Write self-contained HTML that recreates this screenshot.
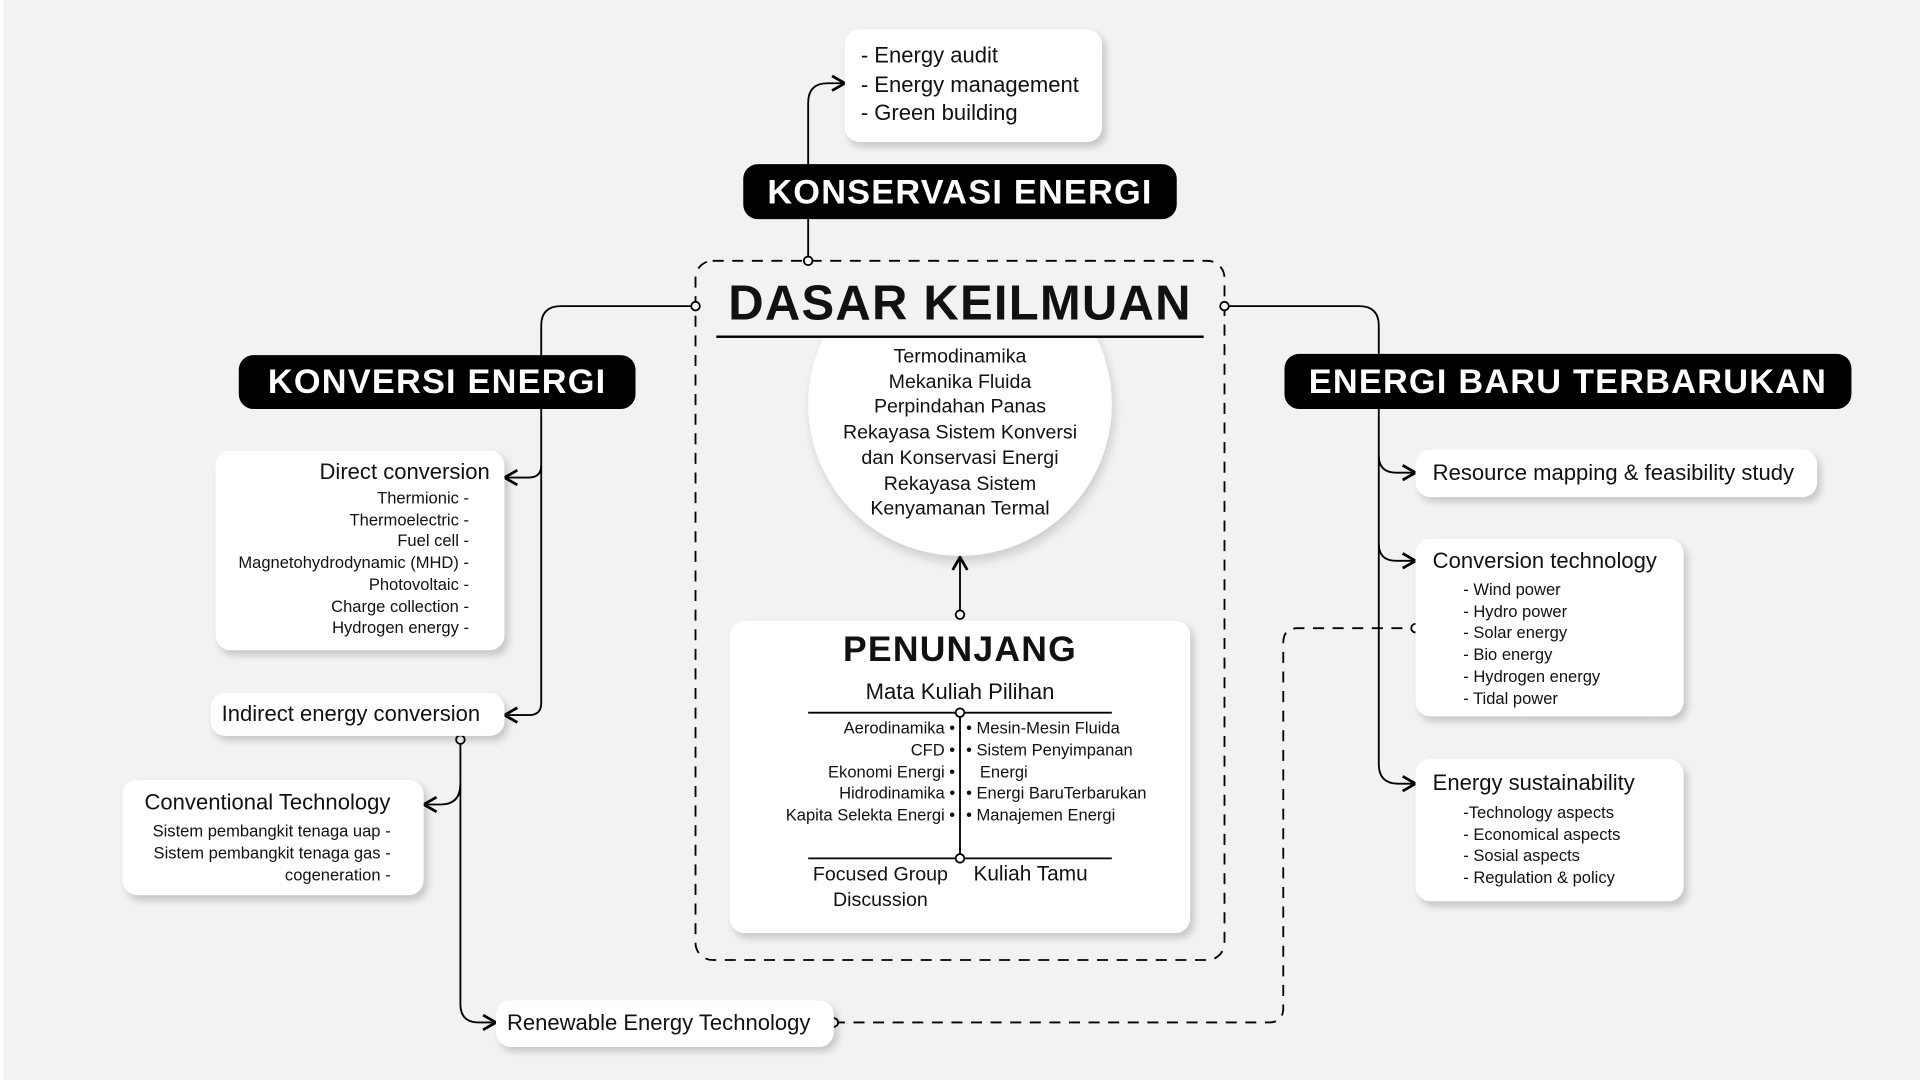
<!DOCTYPE html>
<html><head><meta charset="utf-8"><style>
html,body{margin:0;padding:0;width:1920px;height:1080px;overflow:hidden;background:#f2f2f2}
#s{position:absolute;left:0;top:0;width:1568px;height:882px;transform:scale(1.22449);transform-origin:0 0;font-family:"Liberation Sans",sans-serif;color:#111}
.b{position:absolute;background:#fff;border-radius:12px;box-shadow:3px 4px 6px rgba(0,0,0,0.18)}
.p{position:absolute;background:#000;color:#fff;border-radius:12px;font-weight:bold;text-align:center;letter-spacing:1px}
.t{position:absolute;white-space:nowrap}
</style></head><body><div id="s">
<div style="position:absolute;left:0;top:0;width:3px;height:882px;background:#fff"></div>
<svg width="1568" height="882" style="position:absolute;left:0;top:0">
<defs><marker id="a" markerWidth="10" markerHeight="10" refX="8" refY="5" orient="auto"><path d="M1,1 L8,5 L1,9" fill="none" stroke="#000" stroke-width="1.5"/></marker></defs>
<g fill="none" stroke="#000" stroke-width="1.5">
<rect x="568" y="213" width="432" height="571" rx="14" stroke-dasharray="9,7"/>
<path d="M660,213 V84 Q660,68 676,68 H690" marker-end="url(#a)"/>
<path d="M568,250 H458 Q442,250 442,266 V574 Q442,584 432,584 H412" marker-end="url(#a)"/>
<path d="M442,380 Q442,390 432,390 H412" marker-end="url(#a)"/>
<path d="M376,604 V820 Q376,835 391,835 H405" marker-end="url(#a)"/>
<path d="M376,640 Q376,657 360,657 H346" marker-end="url(#a)"/>
<path d="M1000,250 H1110 Q1126,250 1126,266 V624 Q1126,640 1142,640 H1156" marker-end="url(#a)"/>
<path d="M1126,372 Q1126,386 1140,386 H1156" marker-end="url(#a)"/>
<path d="M1126,444 Q1126,458 1140,458 H1156" marker-end="url(#a)"/>
<path d="M681,835 H1036 Q1048,835 1048,823 V525 Q1048,513 1060,513 H1156" stroke-dasharray="9,7"/>
<path d="M784,502 V455" marker-end="url(#a)"/>
</g>
</svg>
<div class="b" style="left:690px;top:24px;width:210px;height:92px"></div>
<div class="t" style="left:703px;top:34px;font-size:18px;line-height:23.5px">- Energy audit<br>- Energy management<br>- Green building</div>
<div class="p" style="left:607px;top:134px;width:354px;height:45px;line-height:46px;font-size:28px">KONSERVASI ENERGI</div>
<div style="position:absolute;left:660px;top:206px;width:248px;height:248px;border-radius:50%;background:#fff;box-shadow:2px 5px 8px rgba(0,0,0,0.15);clip-path:inset(22px -20px -20px -20px)"></div>
<div style="position:absolute;left:585px;top:226px;width:398px;height:48px;background:#f2f2f2;border-bottom:2px solid #000"></div>
<div class="t" style="left:585px;top:226px;width:398px;text-align:center;font-size:40px;font-weight:bold;letter-spacing:1px">DASAR KEILMUAN</div>
<div class="t" style="left:660px;top:282px;width:248px;text-align:center;font-size:16px;line-height:20.7px">Termodinamika<br>Mekanika Fluida<br>Perpindahan Panas<br>Rekayasa Sistem Konversi<br>dan Konservasi Energi<br>Rekayasa Sistem<br>Kenyamanan Termal</div>
<div class="b" style="left:596px;top:507px;width:376px;height:255px"></div>
<div class="t" style="left:596px;top:515px;width:376px;text-align:center;font-size:29px;font-weight:bold;letter-spacing:1px">PENUNJANG</div>
<div class="t" style="left:596px;top:555px;width:376px;text-align:center;font-size:18px">Mata Kuliah Pilihan</div>
<svg width="1568" height="882" style="position:absolute;left:0;top:0"><g stroke="#000" stroke-width="1.5" fill="#fff"><line x1="660" y1="582" x2="908" y2="582"/><line x1="660" y1="701" x2="908" y2="701"/><line x1="784" y1="582" x2="784" y2="701"/><circle cx="784" cy="582" r="3.5"/><circle cx="784" cy="701" r="3.5"/><circle cx="784" cy="502" r="3.5"/><circle cx="660" cy="213" r="3.5"/><circle cx="568" cy="250" r="3.5"/><circle cx="1000" cy="250" r="3.5"/><circle cx="376" cy="604" r="3.5"/><circle cx="681" cy="835" r="3.5"/><circle cx="1156" cy="513" r="3.5"/></g></svg>
<div class="t" style="left:600px;top:586px;width:180px;text-align:right;font-size:13.5px;line-height:17.8px">Aerodinamika •<br>CFD •<br>Ekonomi Energi •<br>Hidrodinamika •<br>Kapita Selekta Energi •</div>
<div class="t" style="left:789px;top:586px;font-size:13.5px;line-height:17.8px">• Mesin-Mesin Fluida<br>• Sistem Penyimpanan<br>&nbsp;&nbsp;&nbsp;Energi<br>• Energi BaruTerbarukan<br>• Manajemen Energi</div>
<div class="t" style="left:640px;top:704px;width:158px;text-align:center;font-size:16px;line-height:21px">Focused Group<br>Discussion</div>
<div class="t" style="left:795px;top:704px;font-size:17px">Kuliah Tamu</div>
<div class="p" style="left:195px;top:290px;width:324px;height:44px;line-height:44px;font-size:28px">KONVERSI ENERGI</div>
<div class="b" style="left:176px;top:368px;width:236px;height:163px"></div>
<div class="t" style="left:176px;top:375px;width:224px;text-align:right;font-size:18px">Direct conversion</div>
<div class="t" style="left:176px;top:398px;width:207px;text-align:right;font-size:13.5px;line-height:17.7px">Thermionic -<br>Thermoelectric -<br>Fuel cell -<br>Magnetohydrodynamic (MHD) -<br>Photovoltaic -<br>Charge collection -<br>Hydrogen energy -</div>
<div class="b" style="left:172px;top:566px;width:240px;height:35px"></div>
<div class="t" style="left:181px;top:573px;font-size:18px">Indirect energy conversion</div>
<div class="b" style="left:100px;top:637px;width:246px;height:94px"></div>
<div class="t" style="left:118px;top:645px;font-size:18px">Conventional Technology</div>
<div class="t" style="left:100px;top:670px;width:219px;text-align:right;font-size:13.5px;line-height:18px">Sistem pembangkit tenaga uap -<br>Sistem pembangkit tenaga gas -<br>cogeneration -</div>
<div class="b" style="left:405px;top:817px;width:276px;height:38px"></div>
<div class="t" style="left:414px;top:825px;font-size:18px">Renewable Energy Technology</div>
<div class="p" style="left:1049px;top:289px;width:463px;height:45px;line-height:45px;font-size:28px">ENERGI BARU TERBARUKAN</div>
<div class="b" style="left:1156px;top:367px;width:328px;height:39px"></div>
<div class="t" style="left:1170px;top:376px;font-size:18px">Resource mapping &amp; feasibility study</div>
<div class="b" style="left:1156px;top:440px;width:219px;height:145px"></div>
<div class="t" style="left:1170px;top:448px;font-size:18px">Conversion technology</div>
<div class="t" style="left:1195px;top:473px;font-size:13.5px;line-height:17.7px">- Wind power<br>- Hydro power<br>- Solar energy<br>- Bio energy<br>- Hydrogen energy<br>- Tidal power</div>
<div class="b" style="left:1156px;top:620px;width:219px;height:116px"></div>
<div class="t" style="left:1170px;top:629px;font-size:18px">Energy sustainability</div>
<div class="t" style="left:1195px;top:655px;font-size:13.5px;line-height:17.7px">-Technology aspects<br>- Economical aspects<br>- Sosial aspects<br>- Regulation &amp; policy</div>
</div></body></html>
